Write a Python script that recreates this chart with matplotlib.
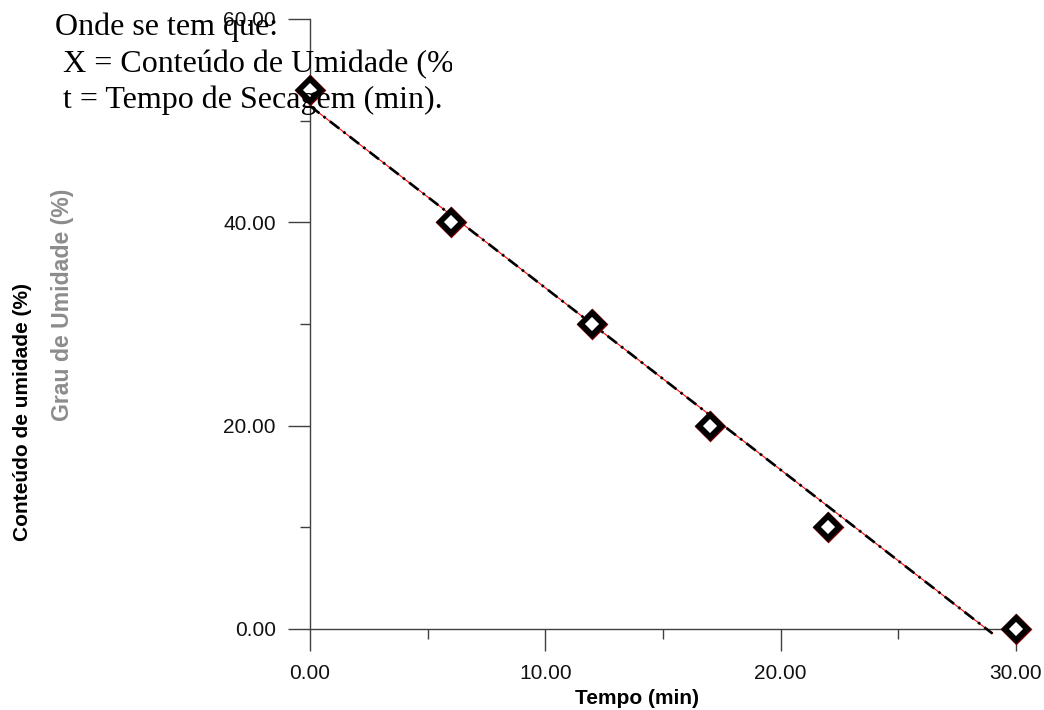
import numpy as np
import matplotlib
matplotlib.use('Agg')
import matplotlib.pyplot as plt
from matplotlib.ticker import MultipleLocator, FormatStrFormatter
from matplotlib.transforms import Bbox, TransformedBbox

# Dados de secagem
tempo = np.array([0, 6, 12, 17, 22, 30])
umidade = np.array([53, 40, 30, 20, 10, 0])

# Intervalo da reta ajustada
t_reta = np.array([0.0, 29.0])

# Regressão linear
coef = np.polyfit(tempo, umidade, 1)
u_reta = np.polyval(coef, t_reta)

plt.rcParams['font.family'] = ['Liberation Sans', 'DejaVu Sans']

fig = plt.figure(figsize=(10.44, 7.10), dpi=100)
ax = fig.add_axes([310 / 1044, 1 - 629 / 710, (1016 - 310) / 1044, (629 - 19) / 710])

# Reta ajustada: vermelha fina por baixo, traço-ponto preto por cima
ax.plot(t_reta, u_reta, color='red', lw=0.8, zorder=2, clip_on=False)
ax.plot(t_reta, u_reta, color='black', lw=1.9, dashes=(4.5, 2, 1, 2), zorder=3,
        clip_on=False)

# Pontos experimentais
ax.plot(tempo, umidade, linestyle='none', marker='D', markersize=11,
        markerfacecolor='white', markeredgecolor='#7a0000', markeredgewidth=5,
        zorder=4, clip_on=False)
ax.plot(tempo, umidade, linestyle='none', marker='D', markersize=11,
        markerfacecolor='white', markeredgecolor='black', markeredgewidth=4,
        zorder=5, clip_on=False)

ax.set_xlim(0, 30)
ax.set_ylim(0, 60)

ax.xaxis.set_major_locator(MultipleLocator(10))
ax.xaxis.set_minor_locator(MultipleLocator(5))
ax.yaxis.set_major_locator(MultipleLocator(20))
ax.yaxis.set_minor_locator(MultipleLocator(10))
ax.xaxis.set_major_formatter(FormatStrFormatter('%.2f'))
ax.yaxis.set_major_formatter(FormatStrFormatter('%.2f'))

for lado in ['top', 'right']:
    ax.spines[lado].set_visible(False)
for lado in ['left', 'bottom']:
    ax.spines[lado].set_color('#404040')
    ax.spines[lado].set_linewidth(1.0)

ax.tick_params(which='major', direction='out', length=15.5, width=1.0,
               color='#404040', labelsize=15, labelcolor='#111111')
ax.tick_params(which='minor', direction='out', length=7.5, width=1.0,
               color='#404040')
ax.tick_params(axis='x', which='major', pad=10)
ax.tick_params(axis='y', which='major', pad=9)

# Rótulos dos eixos
fig.text(637 / 1044, 1 - 699 / 710, 'Tempo (min)', fontsize=15,
         fontweight='bold', ha='center', va='center')
fig.text(23 / 1044, 1 - 412 / 710, 'Conteúdo de umidade (%)', fontsize=15,
         fontweight='bold', rotation=90, ha='center', va='center')
fig.text(62 / 1044, 1 - 305 / 710, 'Grau de Umidade (%)', fontsize=16.6,
         fontweight='bold', rotation=90, ha='center', va='center',
         color='#8c8c8c')

# Texto sobreposto no topo
serif = ['Liberation Serif', 'DejaVu Serif']
fig.text(55 / 1044, 1 - 35 / 710, 'Onde se tem que:', fontsize=23,
         family=serif, va='baseline')
tx = fig.text(63 / 1044, 1 - 72 / 710, 'X = Conteúdo de Umidade (%)',
              fontsize=23, family=serif, va='baseline')
tx.set_clip_box(TransformedBbox(Bbox([[0, 0], [452 / 1044, 1]]), fig.transFigure))
tx.set_clip_on(True)
fig.text(63 / 1044, 1 - 108 / 710, 't = Tempo de Secagem (min).', fontsize=23,
         family=serif, va='baseline')

fig.savefig('out.png', dpi=100)
